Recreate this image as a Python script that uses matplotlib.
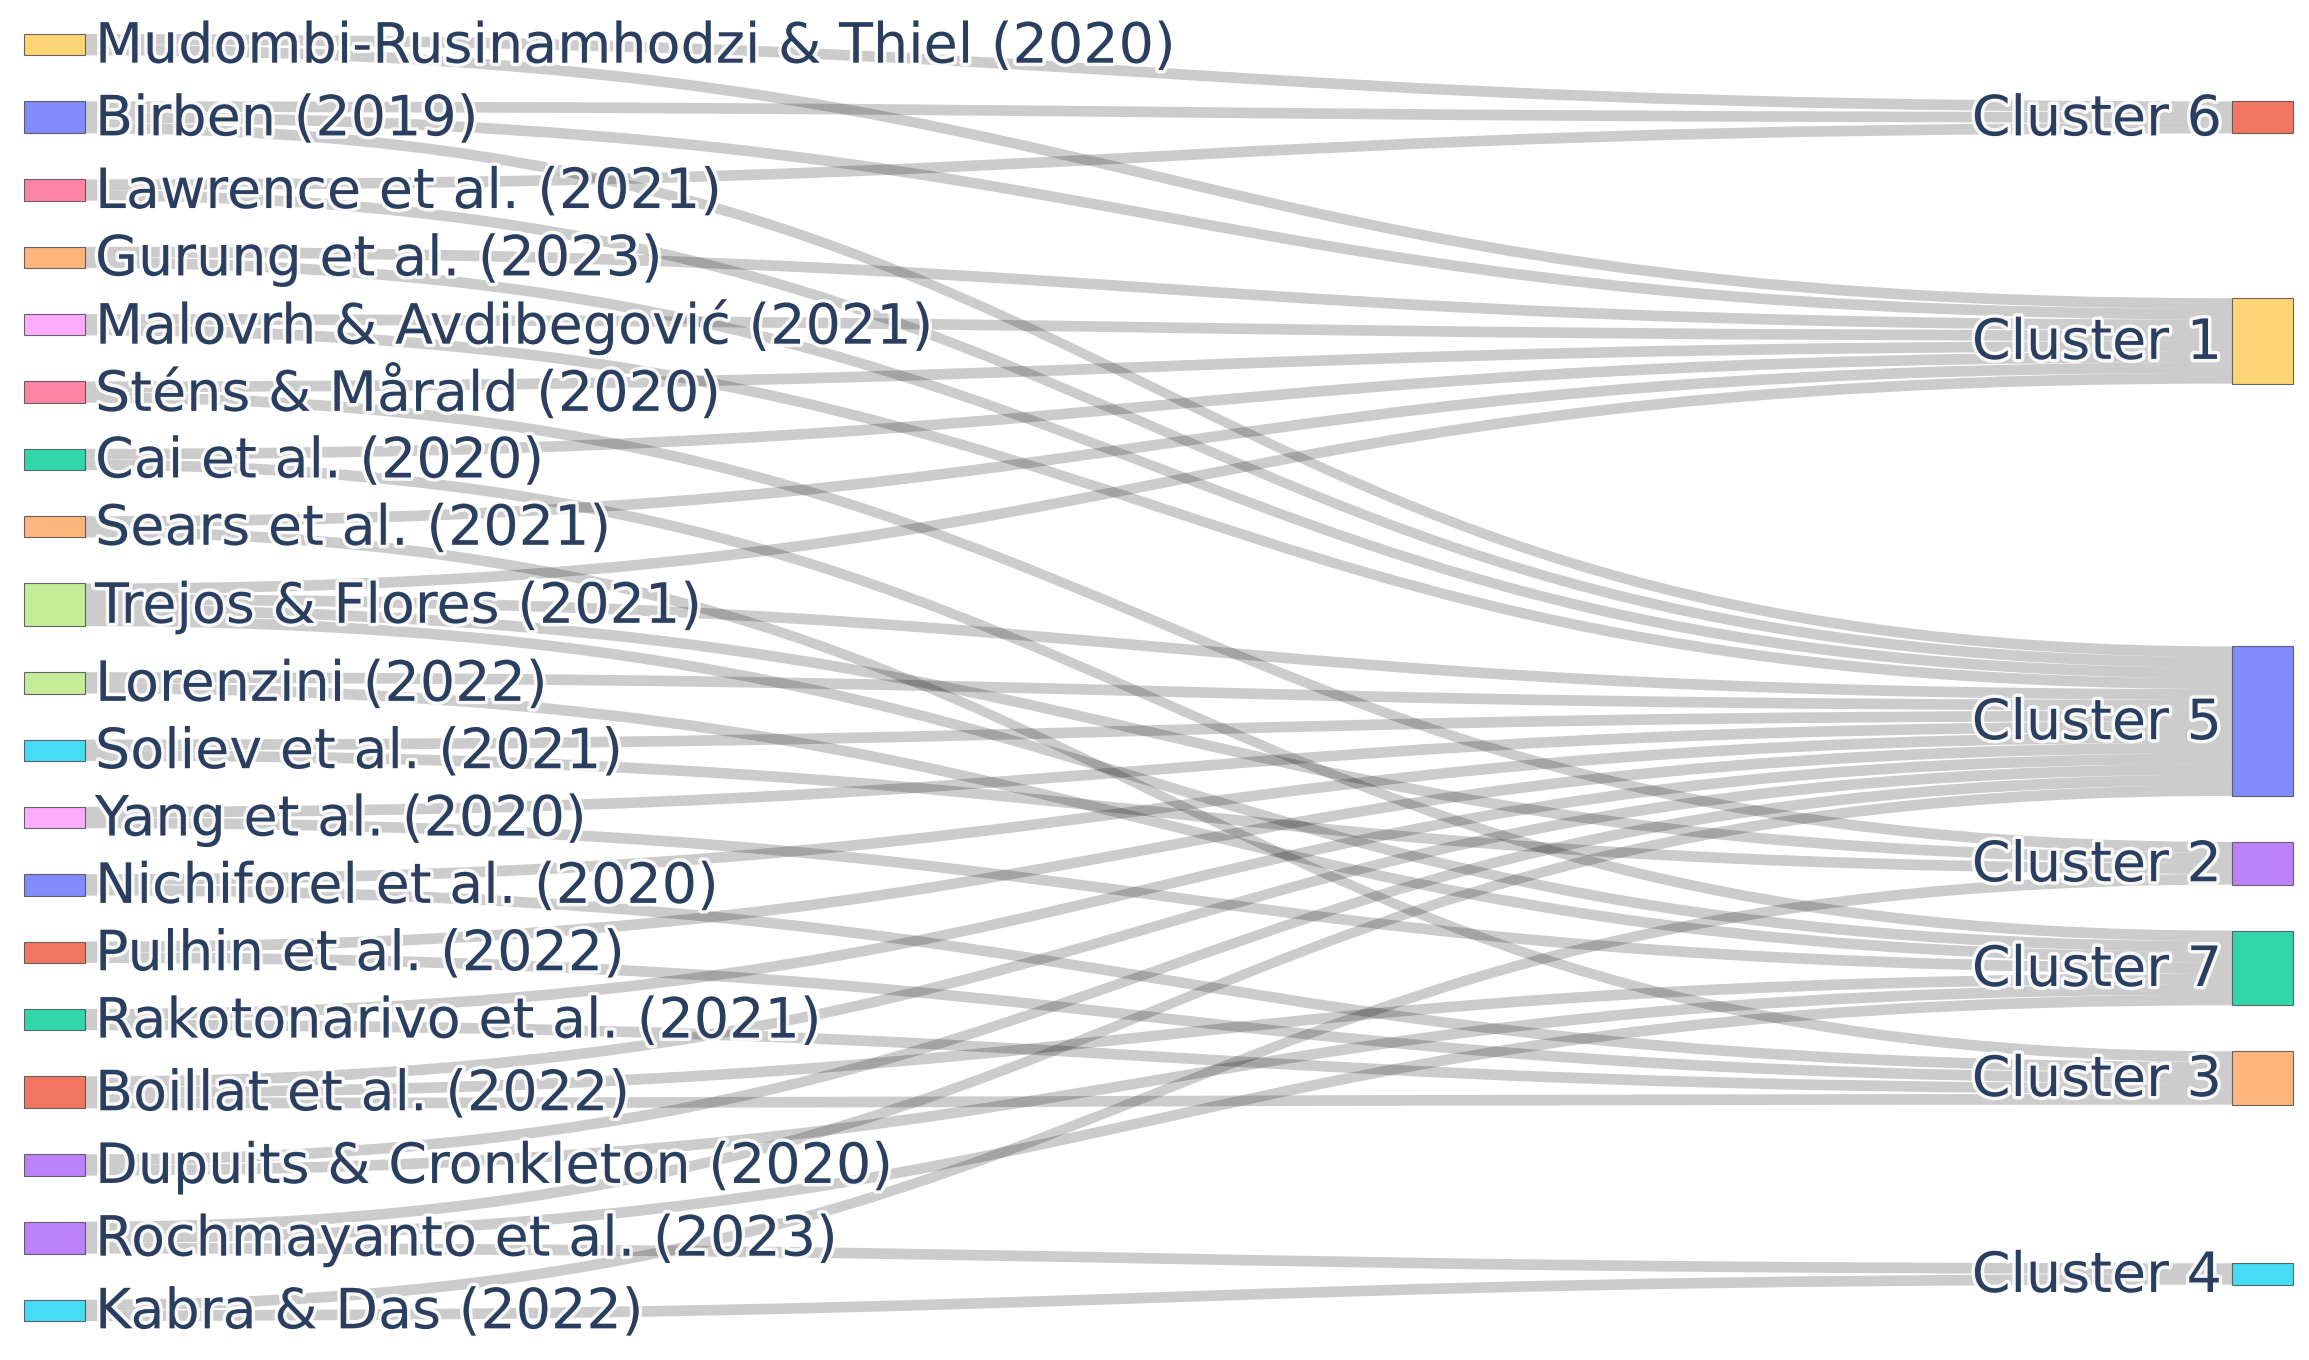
import matplotlib
matplotlib.use("Agg")
import matplotlib.pyplot as plt
import matplotlib.patheffects as pe
from matplotlib.patches import Rectangle, PathPatch
from matplotlib.path import Path
import numpy as np

# nodes on the left (papers) and on the right (clusters)
papers = [
    "Mudombi-Rusinamhodzi & Thiel (2020)", "Birben (2019)", "Lawrence et al. (2021)",
    "Gurung et al. (2023)", "Malovrh & Avdibegović (2021)", "Sténs & Mårald (2020)",
    "Cai et al. (2020)", "Sears et al. (2021)", "Trejos & Flores (2021)",
    "Lorenzini (2022)", "Soliev et al. (2021)", "Yang et al. (2020)",
    "Nichiforel et al. (2020)", "Pulhin et al. (2022)", "Rakotonarivo et al. (2021)",
    "Boillat et al. (2022)", "Dupuits & Cronkleton (2020)", "Rochmayanto et al. (2023)",
    "Kabra & Das (2022)",
]
paper_colors = [
    "#FECB52", "#636EFA", "#FF6692", "#FFA15A", "#FF97FF", "#FF6692", "#00CC96",
    "#FFA15A", "#B6E880", "#B6E880", "#19D3F3", "#FF97FF", "#636EFA", "#EF553B",
    "#00CC96", "#EF553B", "#AB63FA", "#AB63FA", "#19D3F3",
]
clusters = ["Cluster 6", "Cluster 1", "Cluster 5", "Cluster 2", "Cluster 7", "Cluster 3", "Cluster 4"]
cluster_colors = ["#EF553B", "#FECB52", "#636EFA", "#AB63FA", "#00CC96", "#FFA15A", "#19D3F3"]

# links: paper -> cluster (one unit each)
link_src = [
    0, 0,
    1, 1, 1,
    2, 2,
    3, 3,
    4, 4,
    5, 5,
    6, 6,
    7, 7,
    8, 8, 8, 8,
    9, 9,
    10, 10,
    11, 11,
    12, 12,
    13, 13,
    14, 14,
    15, 15, 15,
    16, 16,
    17, 17, 17,
    18, 18,
]
link_tgt = [
    "Cluster 6", "Cluster 1",
    "Cluster 6", "Cluster 1", "Cluster 5",
    "Cluster 6", "Cluster 5",
    "Cluster 1", "Cluster 5",
    "Cluster 1", "Cluster 5",
    "Cluster 1", "Cluster 2",
    "Cluster 1", "Cluster 7",
    "Cluster 1", "Cluster 3",
    "Cluster 1", "Cluster 5", "Cluster 2", "Cluster 7",
    "Cluster 5", "Cluster 7",
    "Cluster 5", "Cluster 2",
    "Cluster 5", "Cluster 7",
    "Cluster 5", "Cluster 3",
    "Cluster 5", "Cluster 3",
    "Cluster 5", "Cluster 3",
    "Cluster 5", "Cluster 7", "Cluster 3",
    "Cluster 5", "Cluster 7",
    "Cluster 5", "Cluster 7", "Cluster 4",
    "Cluster 2", "Cluster 4",
]
link_val = [
    1, 1,
    1, 1, 1,
    1, 1,
    1, 1,
    1, 1,
    1, 1,
    1, 1,
    1, 1,
    1, 1, 1, 1,
    1, 1,
    1, 1,
    1, 1,
    1, 1,
    1, 1,
    1, 1,
    1, 1, 1,
    1, 1,
    1, 1, 1,
    1, 1,
]

W, H = 2309, 1360
top, bottom = 34, 1321
pad = 46
node_w = 61
x_left, x_right = 24, 2232

tgt_idx = [clusters.index(t) for t in link_tgt]
src_val = np.zeros(len(papers))
tgt_val = np.zeros(len(clusters))
for s, t, v in zip(link_src, tgt_idx, link_val):
    src_val[s] += v
    tgt_val[t] += v

unit = (bottom - top - pad * (len(papers) - 1)) / src_val.sum()

# left column stacked top to bottom
src_y0 = []
y = top
for v in src_val:
    src_y0.append(y)
    y += v * unit + pad
src_y0 = np.array(src_y0)
src_c = src_y0 + src_val * unit / 2

# right column: centre on the weighted mean of sources, then resolve overlaps
tgt_c = np.zeros(len(clusters))
for t in range(len(clusters)):
    ss = [s for s, tt in zip(link_src, tgt_idx) if tt == t]
    ww = [v for v, tt in zip(link_val, tgt_idx) if tt == t]
    tgt_c[t] = np.average(src_c[ss], weights=ww)
tgt_h = tgt_val * unit
tgt_y0 = tgt_c - tgt_h / 2
order = np.argsort(tgt_c)
y = top
for t in order:
    tgt_y0[t] = max(tgt_y0[t], y)
    y = tgt_y0[t] + tgt_h[t] + pad
y = bottom
for t in order[::-1]:
    tgt_y0[t] = min(tgt_y0[t] + tgt_h[t], y) - tgt_h[t]
    y = tgt_y0[t] - pad
tgt_c = tgt_y0 + tgt_h / 2

# offsets of each link inside its nodes
n = len(link_src)
off_s = np.zeros(n)
off_t = np.zeros(n)
for s in range(len(papers)):
    ids = sorted([i for i in range(n) if link_src[i] == s], key=lambda i: tgt_c[tgt_idx[i]])
    y = src_y0[s]
    for i in ids:
        off_s[i] = y
        y += link_val[i] * unit
for t in range(len(clusters)):
    ids = sorted([i for i in range(n) if tgt_idx[i] == t], key=lambda i: src_c[link_src[i]])
    y = tgt_y0[t]
    for i in ids:
        off_t[i] = y
        y += link_val[i] * unit

fig = plt.figure(figsize=(W / 100, H / 100), dpi=100)
ax = fig.add_axes([0, 0, 1, 1])
ax.set_xlim(0, W)
ax.set_ylim(H, 0)
ax.axis("off")

xa = x_left + node_w
xb = x_right
xm = (xa + xb) / 2
for i in range(n):
    w = link_val[i] * unit
    y1, y2 = off_s[i], off_t[i]
    verts = [(xa, y1), (xm, y1), (xm, y2), (xb, y2),
             (xb, y2 + w), (xm, y2 + w), (xm, y1 + w), (xa, y1 + w), (xa, y1)]
    codes = [Path.MOVETO, Path.CURVE4, Path.CURVE4, Path.CURVE4,
             Path.LINETO, Path.CURVE4, Path.CURVE4, Path.CURVE4, Path.CLOSEPOLY]
    ax.add_patch(PathPatch(Path(verts, codes), facecolor=(0, 0, 0, 0.2),
                           edgecolor="none", zorder=1))

for s, name in enumerate(papers):
    ax.add_patch(Rectangle((x_left, src_y0[s]), node_w, src_val[s] * unit,
                           facecolor=paper_colors[s], alpha=0.8, edgecolor="#444444",
                           linewidth=0.8, zorder=2))
for t, name in enumerate(clusters):
    ax.add_patch(Rectangle((x_right, tgt_y0[t]), node_w, tgt_h[t],
                           facecolor=cluster_colors[t], alpha=0.8, edgecolor="#444444",
                           linewidth=0.8, zorder=2))

halo = [pe.withStroke(linewidth=5, foreground=(1, 1, 1, 0.85))]
for s, name in enumerate(papers):
    ax.text(x_left + node_w + 10, src_c[s] + 3, name, fontsize=40, color="#2a3f5f",
            ha="left", va="center", path_effects=halo, zorder=3)
for t, name in enumerate(clusters):
    ax.text(x_right - 10, tgt_c[t] + 3, name, fontsize=40, color="#2a3f5f",
            ha="right", va="center", path_effects=halo, zorder=3)

fig.savefig("out.png", dpi=100, facecolor="white")
